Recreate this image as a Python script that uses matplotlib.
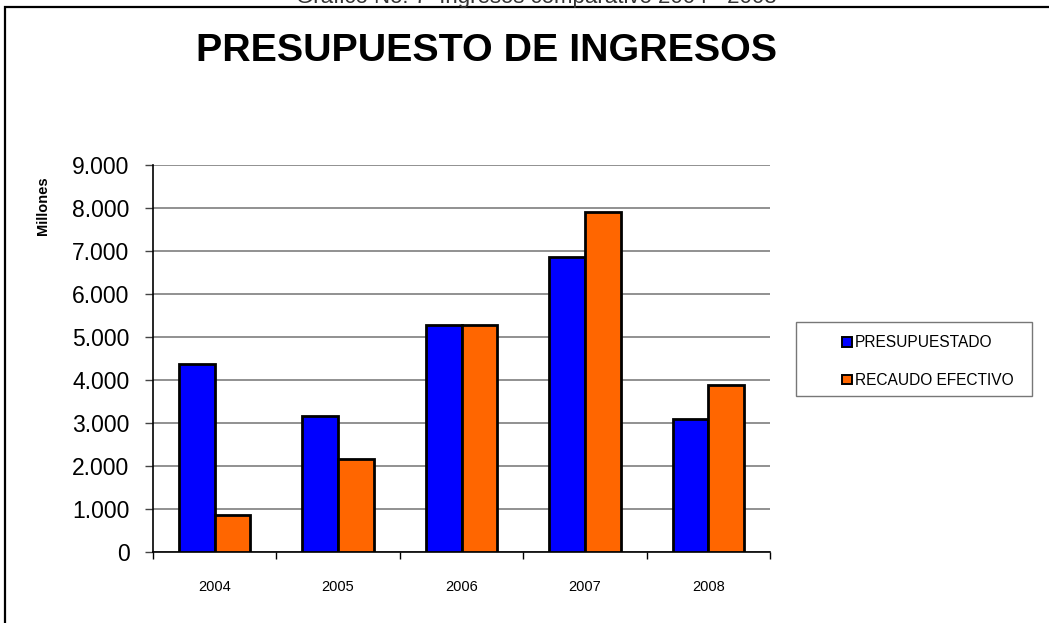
import matplotlib.pyplot as plt
import numpy as np
from matplotlib.patches import Rectangle, Patch

plt.rcParams['font.family'] = ['Liberation Sans', 'DejaVu Sans']

# Datos del grafico
anios = ['2004', '2005', '2006', '2007', '2008']
presupuestado = [4370, 3160, 5280, 6860, 3090]
recaudo = [860, 2160, 5280, 7900, 3880]
y_ticks = [0, 1000, 2000, 3000, 4000, 5000, 6000, 7000, 8000, 9000]
y_labels = ['0', '1.000', '2.000', '3.000', '4.000', '5.000', '6.000', '7.000', '8.000', '9.000']
series = ['PRESUPUESTADO', 'RECAUDO EFECTIVO']
colores = ['#0000FF', '#FF6600']

fig = plt.figure(figsize=(10.49, 6.23), dpi=100)
W, H = 1049, 623

# marco exterior (recortado a la derecha y abajo, como en el original)
fig.patches.append(Rectangle((5 / W, -0.1), 1.2, 1 - 7 / H + 0.1, transform=fig.transFigure,
                             fill=False, edgecolor='black', linewidth=1.6))

# texto superior, recortado en el borde como en la imagen original
fig.text(536 / W, 1 - 3 / H, 'Gráfico No. 7  Ingresos comparativo 2004 - 2008', ha='center',
         va='baseline', fontsize=16, color='#333333')

ax = fig.add_axes([153 / W, 1 - 552 / H, (770 - 153) / W, (552 - 165) / H])

x = np.arange(len(anios))
ancho = 0.29
ax.bar(x - ancho / 2, presupuestado, ancho, color=colores[0], edgecolor='black', linewidth=2, zorder=3)
ax.bar(x + ancho / 2, recaudo, ancho, color=colores[1], edgecolor='black', linewidth=2, zorder=3)

ax.set_xlim(-0.5, len(anios) - 0.5)
ax.set_ylim(0, 9000)
ax.set_yticks(y_ticks)
ax.set_yticklabels(y_labels, fontsize=16.5)
ax.set_xticks(x)
ax.set_xticklabels(anios, fontsize=10.5)
ax.set_xticks(np.arange(len(anios) + 1) - 0.5, minor=True)
ax.tick_params(axis='x', which='major', length=0, pad=20)
ax.tick_params(axis='x', which='minor', length=5, color='black', width=1)
ax.tick_params(axis='y', length=6, color='#444444', width=1, pad=11)

ax.grid(axis='y', color='#888888', linewidth=1.3, zorder=0)
ax.set_axisbelow(True)
for s in ['top', 'right']:
    ax.spines[s].set_visible(False)
ax.spines['left'].set_linewidth(1.2)
ax.spines['bottom'].set_linewidth(1.2)

fig.text(43 / W, 1 - 206 / H, 'Millones', rotation=90, ha='center', va='center',
         fontsize=10.5, fontweight='bold')

fig.text(486 / W, 1 - 51 / H, 'PRESUPUESTO DE INGRESOS', ha='center', va='center',
         fontsize=28.4, fontweight='bold')

# leyenda
fig.patches.append(Rectangle((796 / W, 1 - 396 / H), (1032 - 796) / W, (396 - 322) / H,
                             transform=fig.transFigure, fill=False, edgecolor='#777777', linewidth=1))
handles = [Patch(facecolor=c, edgecolor='black', linewidth=1.4, label=s) for s, c in zip(series, colores)]
fig.legend(handles=handles, loc='upper left', bbox_to_anchor=(830 / W, 1 - 323 / H), frameon=False,
           fontsize=11.2, handlelength=0.6, handleheight=0.6, handletextpad=0.2, labelspacing=1.45,
           borderpad=0.3)

fig.savefig('out.png', dpi=100)
